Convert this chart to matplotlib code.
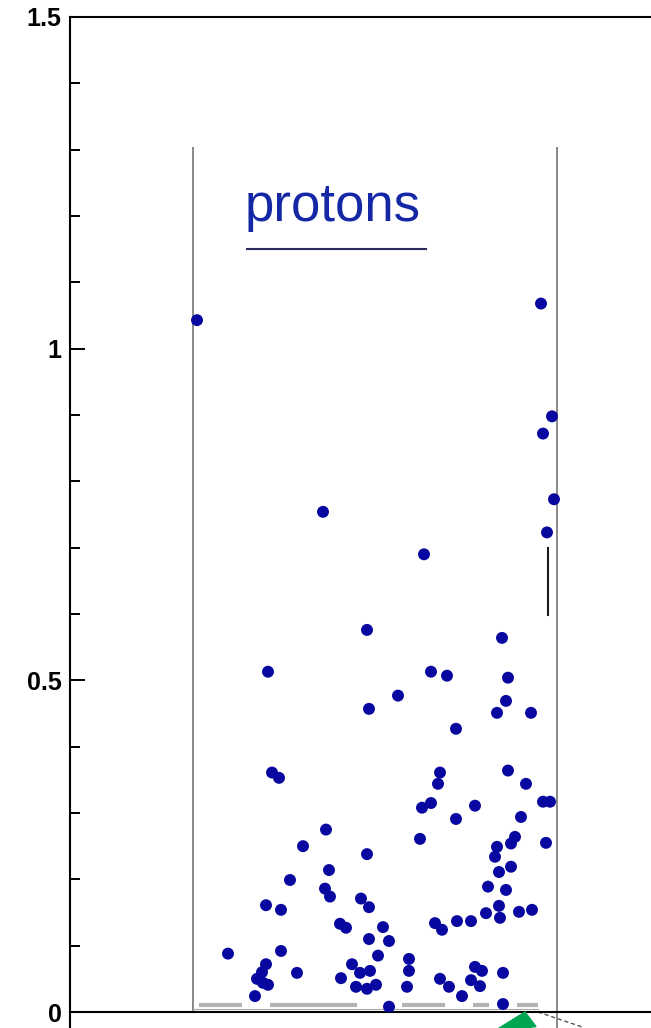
import matplotlib

matplotlib.use("Agg")
import matplotlib.pyplot as plt
from matplotlib.patches import Polygon

# track position (0 = left boundary line, 364 = right boundary line) and value
POS = [4, 348, 359, 350, 361, 354, 130, 231, 174, 309, 75, 238, 254, 315, 205,
       176, 313, 304, 338, 263, 79, 86, 247, 245, 315, 333, 229, 238, 282, 263,
       350, 357, 328, 227, 322, 318, 353, 304, 302, 306, 318, 133, 110, 174, 136,
       97, 132, 137, 168, 176, 73, 88, 295, 313, 147, 153, 176, 190, 196, 242,
       249, 264, 278, 293, 306, 307, 326, 339, 35, 88, 185, 216, 216, 214, 177,
       183, 174, 73, 69, 64, 70, 75, 62, 104, 159, 167, 148, 163, 247, 256,
       269, 282, 289, 278, 287, 310, 310, 196]
VAL = [1.043, 1.068, 0.898, 0.872, 0.773, 0.723, 0.754, 0.690, 0.576, 0.564,
       0.513, 0.513, 0.507, 0.504, 0.477, 0.457, 0.469, 0.451, 0.451, 0.427,
       0.361, 0.353, 0.361, 0.344, 0.364, 0.344, 0.308, 0.315, 0.311, 0.291,
       0.317, 0.317, 0.294, 0.261, 0.264, 0.254, 0.255, 0.249, 0.234, 0.211,
       0.219, 0.275, 0.250, 0.238, 0.214, 0.199, 0.186, 0.174, 0.171, 0.158,
       0.161, 0.154, 0.189, 0.184, 0.133, 0.127, 0.110, 0.128, 0.107, 0.134,
       0.124, 0.137, 0.137, 0.149, 0.160, 0.142, 0.151, 0.154, 0.088, 0.092,
       0.085, 0.080, 0.062, 0.038, 0.062, 0.041, 0.035, 0.072, 0.060, 0.050,
       0.044, 0.041, 0.024, 0.059, 0.072, 0.059, 0.051, 0.038, 0.050, 0.038,
       0.024, 0.068, 0.062, 0.048, 0.039, 0.059, 0.012, 0.008]

BOUNDS = [0, 364]          # gray boundary lines
BOUND_TOP = 1.302
GAP_SEGS = [(6, 49), (77, 164), (209, 252), (280, 296), (324, 345)]
BAR_X, BAR_Y = 355, (0.599, 0.700)
LABEL = "protons"

plt.rcParams["font.family"] = ["Liberation Sans", "DejaVu Sans"]

fig = plt.figure(figsize=(6.51, 10.28), dpi=100)
ax = fig.add_axes([70 / 651, 16 / 1028, 581 / 651, 995 / 1028])
ax.set_xlim(-123, 458)
ax.set_ylim(0, 1.5)

# boundary lines
ax.plot([BOUNDS[0]] * 2, [0, BOUND_TOP], color="#888888", lw=1.4, zorder=2)
ax.plot([BOUNDS[1]] * 2, [-0.03, BOUND_TOP], color="#888888", lw=1.4,
        zorder=2, clip_on=False)

# gray strips along the floor
ax.plot([0, 345], [0.0045, 0.0045], color="#a8a8a8", lw=0.8, zorder=2)
for a, b in GAP_SEGS:
    ax.plot([a, b], [0.011, 0.011], color="#b4b4b4", lw=3, zorder=2,
            solid_capstyle="butt")

ax.scatter(POS, VAL, s=74, color="#0808a0", edgecolors="none", zorder=4)

ax.plot([BAR_X, BAR_X], BAR_Y, color="#1a1a1a", lw=1.5, zorder=3)

ax.text(140, 1.192, LABEL, color="#1428a6", fontsize=38, ha="center",
        va="baseline")
ax.plot([54, 233], [1.151, 1.151], color="#2b2b5e", lw=1.5)

# odds and ends below the axis
ax.add_patch(Polygon([[300, -0.03], [332, 0.0], [343, -0.022]],
                     closed=True, color="#00a651", clip_on=False, zorder=5))
ax.plot([345, 390], [0, -0.023], color="#555555", lw=1, ls=(0, (3, 2)),
        clip_on=False)
ax.plot([-123, -123], [-0.03, 0], color="black", lw=1.5, clip_on=False)

for s in ("left", "top", "bottom"):
    ax.spines[s].set_linewidth(1.5)
    ax.spines[s].set_color("black")
ax.spines["right"].set_visible(False)

ax.set_xticks([])
ax.set_yticks([0, 0.5, 1, 1.5])
ax.set_yticklabels(["0", "0.5", "1", "1.5"])
ax.set_yticks([0.1, 0.2, 0.3, 0.4, 0.6, 0.7, 0.8, 0.9, 1.1, 1.2, 1.3, 1.4],
              minor=True)
ax.tick_params(axis="y", which="major", direction="in", length=11, width=1.4,
               pad=6, labelsize=18)
ax.tick_params(axis="y", which="minor", direction="in", length=7, width=1.4)
for t in ax.get_yticklabels():
    t.set_fontweight("bold")

fig.savefig("out.png", dpi=100)
